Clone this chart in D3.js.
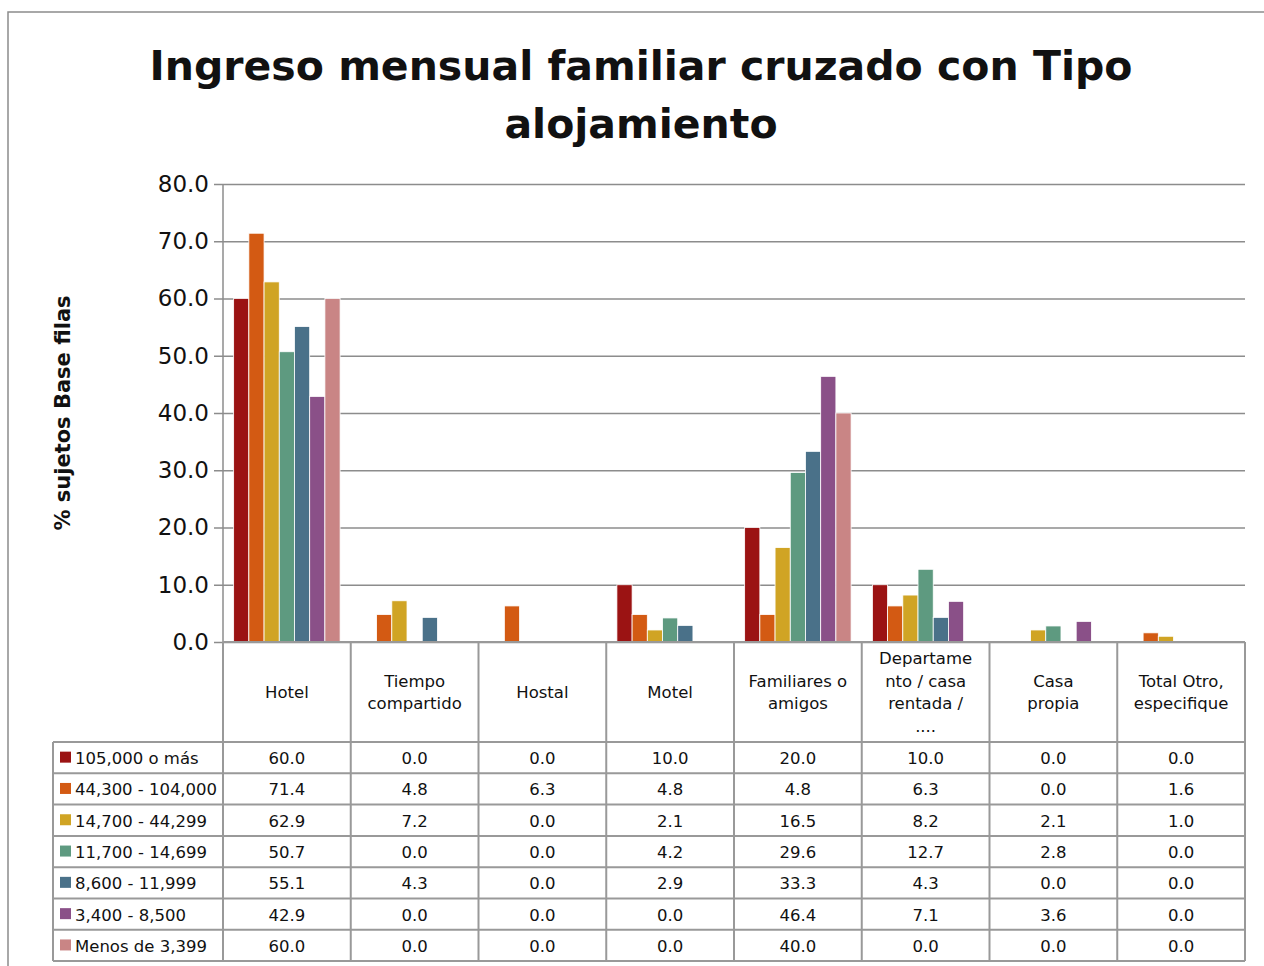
<!DOCTYPE html>
<html>
<head>
<meta charset="utf-8">
<script src="https://cdn.jsdelivr.net/npm/d3@7"></script>
<style>
  body { margin: 0; background: #fff; }
  text { font-family: "DejaVu Sans", sans-serif; fill: #111; }
</style>
</head>
<body>
<div id="chart"></div>
<script>
var categories = [
  ["Hotel"],
  ["Tiempo", "compartido"],
  ["Hostal"],
  ["Motel"],
  ["Familiares o", "amigos"],
  ["Departame", "nto / casa", "rentada /", "...."],
  ["Casa", "propia"],
  ["Total Otro,", "especifique"]
];
var seriesNames = ["105,000 o más", "44,300 - 104,000", "14,700 - 44,299", "11,700 - 14,699", "8,600 - 11,999", "3,400 - 8,500", "Menos de 3,399"];
var s105000 = [60.0, 0.0, 0.0, 10.0, 20.0, 10.0, 0.0, 0.0];
var s44300 = [71.4, 4.8, 6.3, 4.8, 4.8, 6.3, 0.0, 1.6];
var s14700 = [62.9, 7.2, 0.0, 2.1, 16.5, 8.2, 2.1, 1.0];
var s11700 = [50.7, 0.0, 0.0, 4.2, 29.6, 12.7, 2.8, 0.0];
var s8600 = [55.1, 4.3, 0.0, 2.9, 33.3, 4.3, 0.0, 0.0];
var s3400 = [42.9, 0.0, 0.0, 0.0, 46.4, 7.1, 3.6, 0.0];
var sMenos = [60.0, 0.0, 0.0, 0.0, 40.0, 0.0, 0.0, 0.0];
var seriesValues = [s105000, s44300, s14700, s11700, s8600, s3400, sMenos];
var colors = ["#9b1313", "#d35a13", "#d0a424", "#5e9a80", "#4a7189", "#8a5088", "#c98585"];
var yTicks = [0, 10, 20, 30, 40, 50, 60, 70, 80];

var svgWidth = 1264, svgHeight = 966;
var svg = d3.select("#chart").append("svg")
  .attr("width", svgWidth).attr("height", svgHeight);

// outer frame
svg.append("rect").attr("x", 8).attr("y", 12).attr("width", 1270).attr("height", 980)
  .attr("fill", "none").attr("stroke", "#8c8c8c").attr("stroke-width", 1.5);

// title
var title = svg.append("text").attr("text-anchor", "middle")
  .attr("font-size", 41).attr("font-weight", "bold");
title.append("tspan").attr("x", 641).attr("y", 80).text("Ingreso mensual familiar cruzado con Tipo");
title.append("tspan").attr("x", 641).attr("y", 138).text("alojamiento");

var plotLeft = 223, plotRight = 1245, plotTop = 184, plotBottom = 642;

var x = d3.scaleBand().domain(d3.range(categories.length))
  .range([plotLeft, plotRight]).paddingInner(0).paddingOuter(0);
var xInner = d3.scaleBand().domain(d3.range(seriesNames.length))
  .range([0, x.bandwidth()]).paddingOuter(0.7).paddingInner(0);
var y = d3.scaleLinear().domain([0, 80]).range([plotBottom, plotTop]);

// gridlines and y axis
var yAxis = d3.axisLeft(y).tickValues(yTicks).tickFormat(d3.format(".1f"))
  .tickSize(-(plotRight - plotLeft)).tickPadding(14);
var yg = svg.append("g").attr("transform", "translate(" + plotLeft + ",0)").call(yAxis);
yg.select(".domain").remove();
yg.selectAll(".tick line").attr("stroke", "#8c8c8c").attr("stroke-width", 1.5).attr("x1", -9);
yg.selectAll(".tick text").attr("font-size", 23).attr("fill", "#111")
  .attr("font-family", "DejaVu Sans, sans-serif");
svg.append("line").attr("x1", plotLeft).attr("x2", plotLeft)
  .attr("y1", plotTop).attr("y2", plotBottom).attr("stroke", "#8c8c8c").attr("stroke-width", 1.5);

// y axis title
svg.append("text").attr("transform", "translate(70," + ((plotTop + plotBottom) / 2) + ") rotate(-90)")
  .attr("text-anchor", "middle").attr("font-size", 21).attr("font-weight", "bold")
  .text("% sujetos Base filas");

// bars
seriesValues.forEach(function(vals, si) {
  var pts = vals.map(function(v, i) { return {i: i, v: v}; }).filter(function(d) { return d.v > 0; });
  svg.append("g").selectAll("rect").data(pts).enter().append("rect")
    .attr("x", function(d) { return x(d.i) + xInner(si); })
    .attr("y", function(d) { return y(d.v); })
    .attr("width", xInner.bandwidth())
    .attr("height", function(d) { return y(0) - y(d.v); })
    .attr("fill", colors[si])
    .attr("stroke", "#fff").attr("stroke-width", 0.8);
});

// data table
var headerBottom = 742, rowH = 31.3, legendLeft = 53;
var lineColor = "#999";
var table = svg.append("g");

// column separators
d3.range(categories.length + 1).forEach(function(i) {
  var xx = i < categories.length ? x(i) : plotRight;
  table.append("line").attr("x1", xx).attr("x2", xx)
    .attr("y1", plotBottom).attr("y2", headerBottom + rowH * seriesNames.length)
    .attr("stroke", lineColor).attr("stroke-width", 2);
});
// horizontal lines
table.append("line").attr("x1", plotLeft).attr("x2", plotRight)
  .attr("y1", plotBottom).attr("y2", plotBottom).attr("stroke", lineColor).attr("stroke-width", 2);
d3.range(seriesNames.length + 1).forEach(function(r) {
  var yy = headerBottom + r * rowH;
  table.append("line").attr("x1", legendLeft).attr("x2", plotRight)
    .attr("y1", yy).attr("y2", yy).attr("stroke", lineColor).attr("stroke-width", 2);
});
table.append("line").attr("x1", legendLeft).attr("x2", legendLeft)
  .attr("y1", headerBottom).attr("y2", headerBottom + rowH * seriesNames.length)
  .attr("stroke", lineColor).attr("stroke-width", 2);

// header labels
categories.forEach(function(lines, i) {
  var cx = x(i) + x.bandwidth() / 2;
  var lh = 22.5;
  var y0 = (plotBottom + headerBottom) / 2 - (lines.length - 1) * lh / 2 + 6;
  var t = table.append("text").attr("text-anchor", "middle").attr("font-size", 16.5);
  lines.forEach(function(l, k) {
    t.append("tspan").attr("x", cx).attr("y", y0 + k * lh).text(l);
  });
});

// rows
seriesNames.forEach(function(name, si) {
  var ry = headerBottom + si * rowH;
  table.append("rect").attr("x", legendLeft + 7).attr("y", ry + rowH / 2 - 6)
    .attr("width", 11).attr("height", 11).attr("fill", colors[si]);
  table.append("text").attr("x", legendLeft + 22).attr("y", ry + rowH / 2 + 6.5)
    .attr("font-size", 16.5).attr("textLength", name === "44,300 - 104,000" ? 142 : null)
    .text(name);
  seriesValues[si].forEach(function(v, i) {
    table.append("text").attr("x", x(i) + x.bandwidth() / 2).attr("y", ry + rowH / 2 + 6.5)
      .attr("text-anchor", "middle").attr("font-size", 16.5).text(d3.format(".1f")(v));
  });
});
</script>
</body>
</html>
